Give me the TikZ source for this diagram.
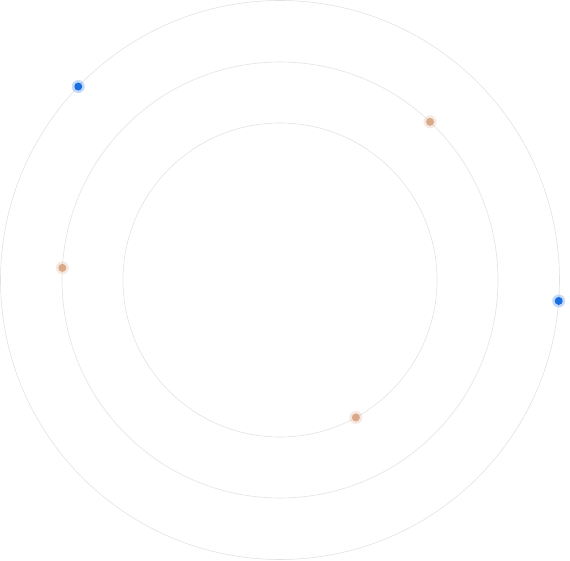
\documentclass[tikz,border=0pt]{standalone}
\usepackage{xcolor}
\usepackage{tikz}
\usetikzlibrary{calc}
\definecolor{OrbGray}{HTML}{E2E2E2}
\definecolor{OrbBlue}{HTML}{1A6FE0}
\definecolor{OrbTan} {HTML}{D9A98A}
\tikzset{
  ring/.style={draw=OrbGray,line width=0.6pt},
  halo/.style={circle,inner sep=0pt,minimum size=13pt,fill opacity=0.25},
  dot/.style={circle,inner sep=0pt,minimum size=8pt}
}

\begin{document}
\begin{tikzpicture}[x=1pt,y=1pt]
    \useasboundingbox (0,0) rectangle (570,-561);
    \coordinate (c) at (280,-280);
    % rings
    \draw[ring] (c) circle (279.5);
    \draw[ring] (c) circle (218);
    \draw[ring] (c) circle (157);

    % outer ring, blue
    \node[halo,fill=OrbBlue] at ($(c)+(136.2:279.5)$) {};
    \node[dot,fill=OrbBlue] (b1) at ($(c)+(136.2:279.5)$) {};
    \node[halo,fill=OrbBlue] at ($(c)+(-4.3:279.5)$) {};
    \node[dot,fill=OrbBlue] (b2) at ($(c)+(-4.3:279.5)$) {};

    % middle ring, tan
    \node[halo,fill=OrbTan] at ($(c)+(46.5:218)$) {};
    \node[dot,fill=OrbTan] (t1) at ($(c)+(46.5:218)$) {};
    \node[halo,fill=OrbTan] at ($(c)+(176.8:218)$) {};
    \node[dot,fill=OrbTan] (t2) at ($(c)+(176.8:218)$) {};

    % inner ring, tan
    \node[halo,fill=OrbTan] at ($(c)+(-61.1:157)$) {};
    \node[dot,fill=OrbTan] (t3) at ($(c)+(-61.1:157)$) {};
\end{tikzpicture}
\end{document}
